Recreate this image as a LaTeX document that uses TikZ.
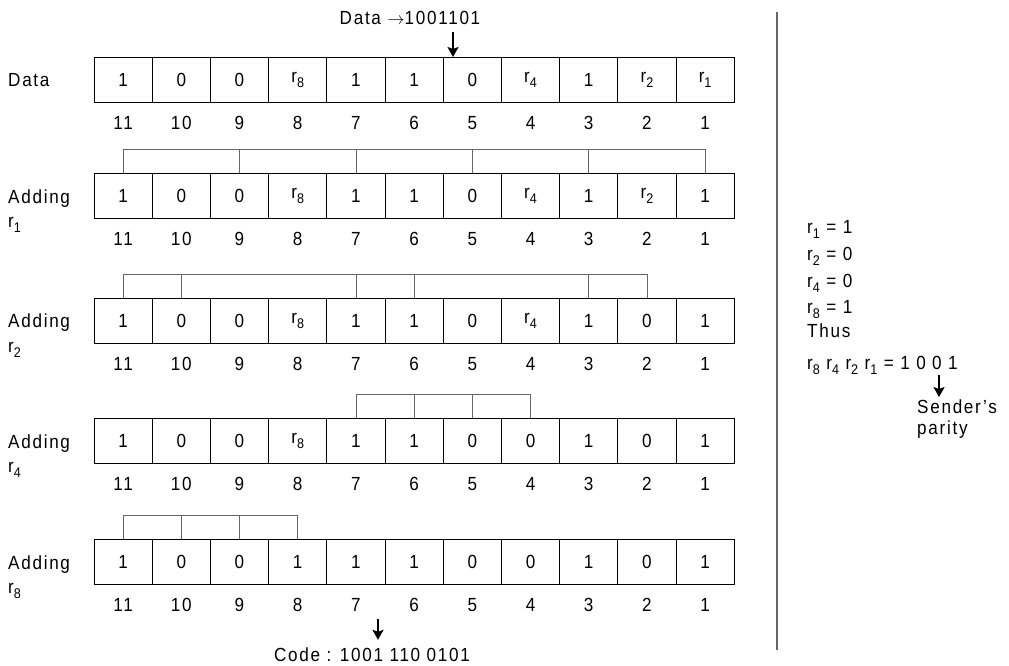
\documentclass[tikz,border=0pt]{standalone}
\usepackage{fontspec}
\setmainfont{Liberation Sans}[LetterSpace=9, FakeStretch=0.9]
\usetikzlibrary{arrows.meta}
\newcommand\rsub[1]{r\raisebox{-5pt}{\fontsize{14}{14}\selectfont #1}}
\newcommand\cellrow[3]{%
  \foreach \v [count=\i] in {#3} {%
    \pgfmathtruncatemacro\p{12-\i}%
    \node[cell] (#1\p) at ({94+(\i-0.5)*58.2}, {-#2-22.5}) {\v};%
    \node[txt] (#1n\p) at ({94+(\i-0.5)*58.2}, {-#2-66}) {\p};%
  }%
}
\begin{document}
\begin{tikzpicture}[x=1pt,y=1pt,
  txt/.style={font=\fontsize{19}{22}\selectfont, inner sep=0pt},
  lbl/.style={txt, anchor=base west},
  cell/.style={draw, line width=0.9pt, minimum width=58.2pt, minimum height=45pt,
    inner sep=0pt, outer sep=0pt, font=\fontsize{19}{22}\selectfont},
  brk/.style={draw=black!60, line width=0.8pt},
  arr/.style={-{Stealth[length=10pt,width=11pt,inset=2pt]}, line width=2pt},
  sep/.style={draw=black!60, line width=1.3pt}]
\useasboundingbox (0,0) rectangle (1009,-666);

% rows of cells
\cellrow{a}{57}{1,0,0,\rsub{8},1,1,0,\rsub{4},1,\rsub{2},\rsub{1}}
\cellrow{b}{173}{1,0,0,\rsub{8},1,1,0,\rsub{4},1,\rsub{2},1}
\cellrow{c}{298}{1,0,0,\rsub{8},1,1,0,\rsub{4},1,0,1}
\cellrow{d}{418}{1,0,0,\rsub{8},1,1,0,0,1,0,1}
\cellrow{e}{539}{1,0,0,1,1,1,0,0,1,0,1}

% row labels
\node[lbl] (la) at (8,-87) {Data};
\node[lbl] (lb) at (8,-203) {Adding};
\node[lbl] (lb2) at (8,-227) {\rsub{1}};
\node[lbl] (lc) at (8,-327) {Adding};
\node[lbl] (lc2) at (8,-352) {\rsub{2}};
\node[lbl] (ld) at (8,-448) {Adding};
\node[lbl] (ld2) at (8,-472) {\rsub{4}};
\node[lbl] (le) at (8,-569) {Adding};
\node[lbl] (le2) at (8,-593) {\rsub{8}};

% parity brackets
\draw[brk] (b11.north) -- ++(0,24) -| (b1.north);
\foreach \q in {9,7,5,3} \draw[brk] (b\q.north) -- ++(0,24);
\draw[brk] (c11.north) -- ++(0,24) -| (c2.north);
\foreach \q in {10,7,6,3} \draw[brk] (c\q.north) -- ++(0,24);
\draw[brk] (d7.north) -- ++(0,24) -| (d4.north);
\foreach \q in {6,5} \draw[brk] (d\q.north) -- ++(0,24);
\draw[brk] (e11.north) -- ++(0,24) -| (e8.north);
\foreach \q in {10,9} \draw[brk] (e\q.north) -- ++(0,24);

% top title and arrow
\node[txt] (title) at (410,-18) {Data $\rightarrow$1001101};
\coordinate (ta) at (453,-32);
\draw[arr] (ta) -- (ta |- a5.north);

% bottom code and arrow
\node[txt] (code) at (372,-655) {Code : 1001 110 0101};
\coordinate (ca) at (378,-619);
\draw[arr] (ca) -- ([yshift=8pt]ca |- code.north);

% separator
\coordinate (vt) at (777,-12);
\coordinate (vb) at (777,-650);
\draw[sep] (vt) -- (vb);

% right side
\node[lbl] (p1) at (807,-233) {\rsub{1} = 1};
\node[lbl] (p2) at (807,-260) {\rsub{2} = 0};
\node[lbl] (p4) at (807,-287) {\rsub{4} = 0};
\node[lbl] (p8) at (807,-313) {\rsub{8} = 1};
\node[lbl] (thus) at (807,-337) {Thus};
\node[lbl] (form) at (807,-369) {\rsub{8} \rsub{4} \rsub{2} \rsub{1} = 1 0 0 1};
\node[lbl] (snd) at (917,-413) {Sender’s};
\node[lbl] (par) at (917,-434) {parity};
\coordinate (pa) at (939,-375);
\draw[arr] (pa) -- ([yshift=2pt]pa |- snd.north);
\end{tikzpicture}
\end{document}
